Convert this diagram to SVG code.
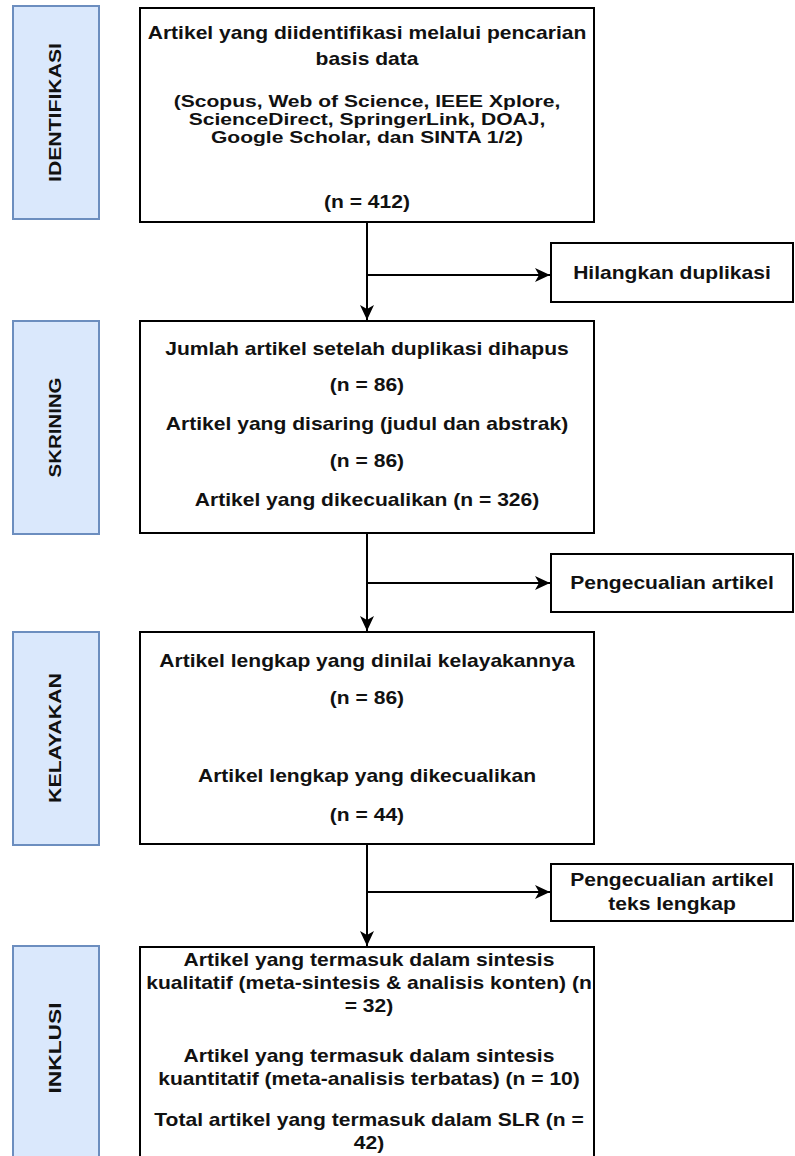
<svg xmlns="http://www.w3.org/2000/svg" width="795" height="1156" viewBox="0 0 795 1156">
<style>
.phase{fill:#dae8fc;stroke:#6c8ebf;stroke-width:2}
.box{fill:#ffffff;stroke:#000000;stroke-width:2}
.t{font-family:"Liberation Sans",Arial,sans-serif;font-weight:bold;font-size:18px;fill:#111111;text-anchor:middle}
.ts{font-family:"Liberation Sans",Arial,sans-serif;font-weight:bold;font-size:16px;fill:#111111;text-anchor:middle}
.pt{font-family:"Liberation Sans",Arial,sans-serif;font-weight:bold;font-size:16px;fill:#111111;text-anchor:middle}
.edge{fill:none;stroke:#000000;stroke-width:2}
</style>
<defs>
<marker id="arr" markerUnits="userSpaceOnUse" markerWidth="16" markerHeight="14" refX="15" refY="7" orient="auto">
<path d="M0,0 L15,7 L0,14 L4,7 z" fill="#000000"/>
</marker>
</defs>
<rect width="795" height="1156" fill="#ffffff"/>

<g id="phase-identifikasi">
<rect class="phase" x="13" y="6" width="86" height="213"/>
<text class="pt" transform="translate(61,112.5) rotate(-90)" x="0" y="0" textLength="139" lengthAdjust="spacingAndGlyphs">IDENTIFIKASI</text>
</g>
<g id="phase-skrining">
<rect class="phase" x="13" y="321" width="86" height="213"/>
<text class="pt" transform="translate(61,427.5) rotate(-90)" x="0" y="0" textLength="100" lengthAdjust="spacingAndGlyphs">SKRINING</text>
</g>
<g id="phase-kelayakan">
<rect class="phase" x="13" y="632" width="86" height="213"/>
<text class="pt" transform="translate(61,738) rotate(-90)" x="0" y="0" textLength="130" lengthAdjust="spacingAndGlyphs">KELAYAKAN</text>
</g>
<g id="phase-inklusi">
<rect class="phase" x="13" y="946" width="86" height="230"/>
<text class="pt" transform="translate(61,1048) rotate(-90)" x="0" y="0" textLength="91" lengthAdjust="spacingAndGlyphs">INKLUSI</text>
</g>

<g id="connectors">
<path class="edge" d="M367,222 L367,320" marker-end="url(#arr)"/>
<path class="edge" d="M367,275 L550,275" marker-end="url(#arr)"/>
<path class="edge" d="M367,533 L367,631" marker-end="url(#arr)"/>
<path class="edge" d="M367,583 L550,583" marker-end="url(#arr)"/>
<path class="edge" d="M367,845 L367,946" marker-end="url(#arr)"/>
<path class="edge" d="M367,892 L550,892" marker-end="url(#arr)"/>
</g>

<g id="node-identified">
<rect class="box" x="140" y="8" width="454" height="214"/>
<g transform="translate(367,0) scale(1.17,1)">
<text class="t" x="0" y="39">Artikel yang diidentifikasi melalui pencarian</text>
<text class="t" x="0" y="65">basis data</text>
<text class="t" x="0" y="208">(n = 412)</text>
</g>
<g transform="translate(367,0) scale(1.316,1)">
<text class="ts" x="0" y="107">(Scopus, Web of Science, IEEE Xplore,<tspan x="0" dy="18">ScienceDirect, SpringerLink, DOAJ,</tspan><tspan x="0" dy="18">Google Scholar, dan SINTA 1/2)</tspan></text>
</g>
</g>

<g id="node-remove-duplicates">
<rect class="box" x="551" y="243" width="242" height="59"/>
<g transform="translate(672,0) scale(1.17,1)">
<text class="t" x="0" y="279">Hilangkan duplikasi</text>
</g>
</g>

<g id="node-screening">
<rect class="box" x="140" y="321" width="454" height="212"/>
<g transform="translate(367,0) scale(1.17,1)">
<text class="t" x="0" y="355">Jumlah artikel setelah duplikasi dihapus</text>
<text class="t" x="0" y="391">(n = 86)</text>
<text class="t" x="0" y="430">Artikel yang disaring (judul dan abstrak)</text>
<text class="t" x="0" y="467">(n = 86)</text>
<text class="t" x="0" y="506">Artikel yang dikecualikan (n = 326)</text>
</g>
</g>

<g id="node-exclusion">
<rect class="box" x="551" y="554" width="242" height="58"/>
<g transform="translate(672,0) scale(1.17,1)">
<text class="t" x="0" y="589">Pengecualian artikel</text>
</g>
</g>

<g id="node-eligibility">
<rect class="box" x="140" y="632" width="454" height="212"/>
<g transform="translate(367,0) scale(1.17,1)">
<text class="t" x="0" y="667">Artikel lengkap yang dinilai kelayakannya</text>
<text class="t" x="0" y="704">(n = 86)</text>
<text class="t" x="0" y="782">Artikel lengkap yang dikecualikan</text>
<text class="t" x="0" y="821">(n = 44)</text>
</g>
</g>

<g id="node-fulltext-exclusion">
<rect class="box" x="551" y="864" width="242" height="57"/>
<g transform="translate(672,0) scale(1.17,1)">
<text class="t" x="0" y="886">Pengecualian artikel<tspan x="0" dy="24">teks lengkap</tspan></text>
</g>
</g>

<g id="node-included">
<rect class="box" x="140" y="947" width="454" height="230"/>
<g transform="translate(369,0) scale(1.17,1)">
<text class="t" x="0" y="966">Artikel yang termasuk dalam sintesis<tspan x="0" dy="23">kualitatif (meta-sintesis &amp; analisis konten) (n</tspan><tspan x="0" dy="23">= 32)</tspan></text>
<text class="t" x="0" y="1062">Artikel yang termasuk dalam sintesis<tspan x="0" dy="23">kuantitatif (meta-analisis terbatas) (n = 10)</tspan></text>
<text class="t" x="0" y="1126">Total artikel yang termasuk dalam SLR (n =<tspan x="0" dy="23">42)</tspan></text>
</g>
</g>
</svg>
